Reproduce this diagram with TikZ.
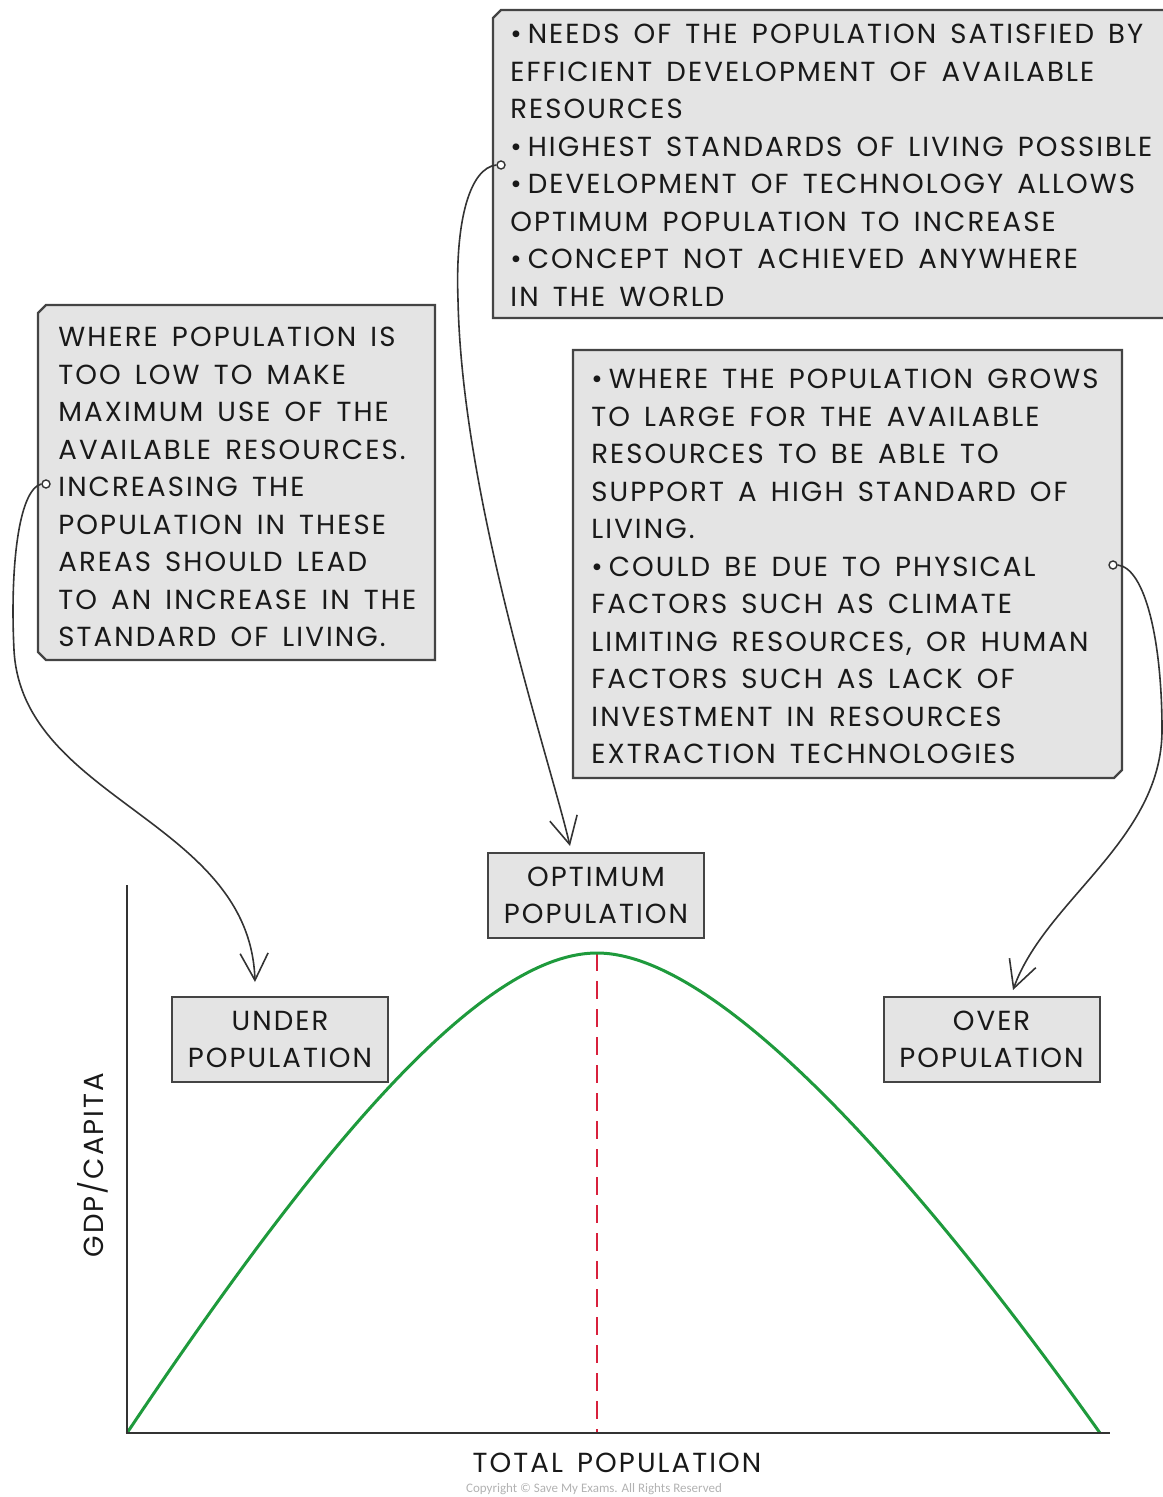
\documentclass[tikz,border=0pt]{standalone}
\usepackage{fontspec}
\setmainfont{Poppins}[LetterSpace=7.5, WordSpace=1.5]
\newfontfamily\cfont{Carlito}
\usetikzlibrary{arrows.meta,calc}
\definecolor{boxfill}{HTML}{E4E4E4}
\definecolor{boxedge}{HTML}{444444}
\definecolor{curvegreen}{HTML}{1E9A3C}
\definecolor{dashred}{HTML}{D8203C}
\newcommand{\bul}{\textbullet\kern3pt}
\begin{document}
\begin{tikzpicture}[x=0.5pt,y=-0.5pt,
  boxline/.style={draw=boxedge, line width=1.1pt, fill=boxfill},
  infotext/.style={anchor=north west, inner sep=0pt, align=left, font=\fontsize{13.8}{18.75}\selectfont, text=black!90},
  labelbox/.style={draw=boxedge, line width=1pt, fill=boxfill, align=center, minimum width=108pt, minimum height=42.5pt, inner sep=0pt, font=\fontsize{13.8}{18.75}\selectfont, text=black!90},
  conn/.style={line width=0.8pt, draw=black!80, -{Straight Barb[length=13.5pt,width=14pt,line width=0.8pt]}},
  dot/.style={circle, draw=black!80, fill=white, line width=0.7pt, inner sep=0pt, minimum size=4pt},
  axisline/.style={line width=1pt, draw=black!80},
  axislabel/.style={font=\fontsize{13.8}{18.75}\selectfont, text=black!90, inner sep=0pt}
]
\useasboundingbox (0,0) rectangle (1162,1497);

% info boxes
\draw[boxline] (501,10) -- (1170,10) -- (1170,318) -- (493,318) -- (493,18) -- cycle;
\draw[boxline] (46,305) -- (435,305) -- (435,660) -- (46,660) -- (38,652) -- (38,313) -- cycle;
\draw[boxline] (573,350) -- (1122,350) -- (1122,770) -- (1114,778) -- (573,778) -- cycle;

\node[infotext] (toptext) at (510,17) {\strut\bul NEEDS OF THE POPULATION SATISFIED BY\\
EFFICIENT DEVELOPMENT OF AVAILABLE\\
RESOURCES\\
\bul HIGHEST STANDARDS OF LIVING POSSIBLE\\
\bul DEVELOPMENT OF TECHNOLOGY ALLOWS\\
OPTIMUM POPULATION TO INCREASE\\
\bul CONCEPT NOT ACHIEVED ANYWHERE\\
IN THE WORLD};

\node[infotext] (lefttext) at (58,320) {\strut WHERE POPULATION IS\\
TOO LOW TO MAKE\\
MAXIMUM USE OF THE\\
AVAILABLE RESOURCES.\\
INCREASING THE\\
POPULATION IN THESE\\
AREAS SHOULD LEAD\\
TO AN INCREASE IN THE\\
STANDARD OF LIVING.};

\node[infotext] (righttext) at (591,362) {\strut\bul WHERE THE POPULATION GROWS\\
TO LARGE FOR THE AVAILABLE\\
RESOURCES TO BE ABLE TO\\
SUPPORT A HIGH STANDARD OF\\
LIVING.\\
\bul COULD BE DUE TO PHYSICAL\\
FACTORS SUCH AS CLIMATE\\
LIMITING RESOURCES, OR HUMAN\\
FACTORS SUCH AS LACK OF\\
INVESTMENT IN RESOURCES\\
EXTRACTION TECHNOLOGIES};

% label boxes
\node[labelbox] (optimum) at (596,895.5) {OPTIMUM\\POPULATION};
\node[labelbox] (under) at (280,1039.5) {UNDER\\POPULATION};
\node[labelbox] (over) at (991.5,1039.5) {OVER\\POPULATION};

% dots
\node[dot] (dl) at (46,484) {};
\node[dot] (dt) at (501,165) {};
\node[dot] (dr) at (1113,565) {};

% connectors
\draw[conn] (dl.west) .. controls (18,490) and (10,570) .. (14,650)
  .. controls (22,800) and (250,820) .. ($(under.north)+(-25,-14)$);
\draw[conn] (dt.west) .. controls (470,168) and (455,220) .. (458,300)
  .. controls (462,500) and (550,760) .. ($(optimum.north)+(-26,-6)$);
\draw[conn] (dr.east) .. controls (1145,568) and (1162,640) .. (1162,730)
  .. controls (1162,840) and (1045,900) .. ($(over.north)+(21.5,-6)$);

% axes and curve
\coordinate (O) at (127,1433);
\coordinate (ytop) at (127,885);
\coordinate (xend) at (1110,1433);
\coordinate (peak) at (597,953);
\coordinate (cend) at (1100,1433);
\coordinate (pfoot) at (597,1433);
\draw[dashred, line width=1.4pt, dash pattern=on 9pt off 5pt] (peak) -- (pfoot);
\draw[curvegreen, line width=1.5pt] (O) .. controls (290,1190) and (470,953) .. (peak)
  .. controls (720,953) and (920,1180) .. (cend);
\draw[axisline] (ytop) -- (O) -- (xend);

\node[axislabel] (xlabel) at (617,1463) {TOTAL POPULATION};
\node[axislabel, rotate=90] (ylabel) at (93,1165) {GDP/CAPITA};
\node[font=\cfont\fontsize{6.5}{7.5}\selectfont, text=black!30, inner sep=0pt] (copy) at (594,1489) {Copyright © Save My Exams. All Rights Reserved};
\end{tikzpicture}
\end{document}
